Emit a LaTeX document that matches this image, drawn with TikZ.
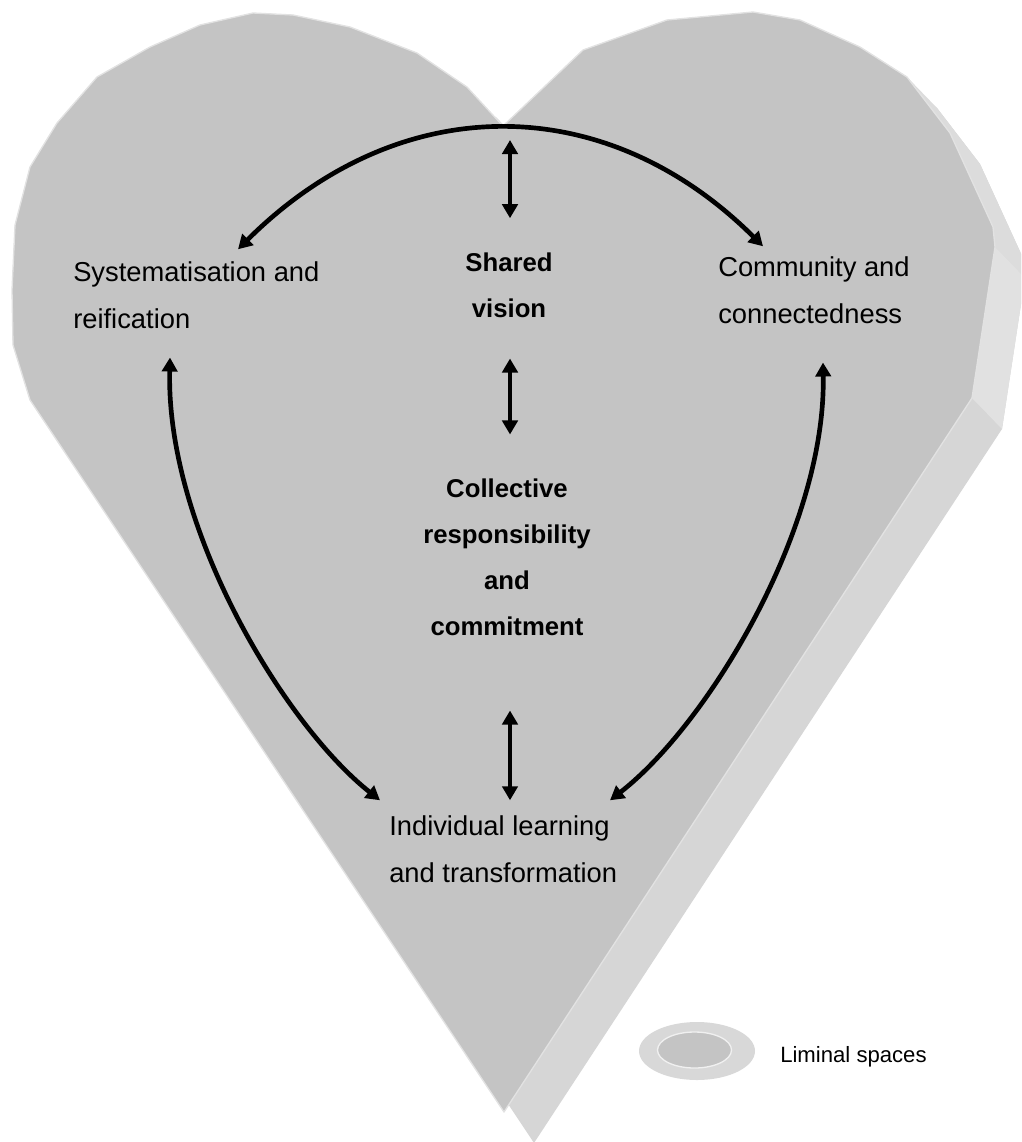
\documentclass[tikz,border=0pt]{standalone}
\usepackage{fontspec}
\setmainfont{Liberation Sans}
\usetikzlibrary{arrows.meta,calc}
\definecolor{facefront}{RGB}{196,196,196}
\definecolor{faceside}{RGB}{214,214,214}
\definecolor{facelight}{RGB}{220,220,220}
\definecolor{facelighter}{RGB}{225,225,225}
\definecolor{rim}{RGB}{226,226,226}
\definecolor{ringouter}{RGB}{216,216,216}
\definecolor{ringedge}{RGB}{240,240,240}

% outline of the heart's front face (pixel units, y downwards)
\def\heartoutline{(503,126) -- (583,50) -- (667,20) -- (753,12) -- (800,20) -- (860,47)
  -- (907,77) -- (950,133) -- (993,227) -- (995,247) -- (972,398) -- (504,1112)
  -- (30,400) -- (13,345) -- (12,290) -- (15,225) -- (30,167) -- (57,123) -- (97,77)
  -- (150,47) -- (200,25) -- (253,13) -- (293,15) -- (350,27) -- (417,53) -- (467,87) -- cycle}

\begin{document}
\begin{tikzpicture}[x=0.75pt,y=-0.75pt,
  plainlabel/.style={inner sep=0pt, align=left, anchor=base west,
    font=\fontsize{20.5}{35}\selectfont},
  keylabel/.style={inner sep=0pt, align=center, anchor=base,
    font=\fontsize{19.3}{34.4}\selectfont\bfseries},
  link/.style={line width=3.5pt,
    {Triangle[length=10.5pt,width=11.5pt]}-{Triangle[length=10.5pt,width=11.5pt]}},
]
\useasboundingbox (0,0) rectangle (1021,1142);
\clip (0,0) rectangle (1021,1142);

% extruded back of the heart
\begin{scope}[shift={(30,31)}]
  \fill[faceside] \heartoutline;
\end{scope}
% lighter facets of the side wall
\fill[facelight] (907,77) -- (950,133) -- (993,227) -- (995,247) -- (1025,278)
  -- (1023,258) -- (980,164) -- (937,108) -- cycle;
\fill[facelighter] (995,247) -- (972,398) -- (1002,429) -- (1025,278) -- cycle;

% front face
\fill[facefront] \heartoutline;
\draw[rim, line width=1pt, line join=round] \heartoutline;

% labels (anchored at the baseline of their last line)
\node[plainlabel] (sys) at (73,328) {Systematisation and\\reification};
\node[plainlabel] (com) at (718,323) {Community and\\connectedness};
\node[keylabel] (shv) at (509,317) {Shared\\vision};
\node[keylabel] (col) at (507,635) {Collective\\responsibility\\and\\commitment};
\node[plainlabel] (ind) at (389,882) {Individual learning\\and transformation};

% connectors
\coordinate (arctop) at (510,140);
\draw[link] ($(sys.north west)+(165,-12)$) .. controls (399,89) and (605,89)
  .. ($(com.north west)+(45,-10)$);
\draw[link] (arctop) -- ($(shv.north)+(1,-34)$);
\draw[link] ($(shv.south)+(1,41)$) -- ($(col.north)+(3,-44)$);
\draw[link] ($(col.south)+(3,75)$) -- ($(ind.north west)+(121,-15)$);
\draw[link] ($(sys.south west)+(97,29)$) .. controls (166,530) and (285,725)
  .. ($(ind.north west)+(-9,-15)$);
\draw[link] ($(com.south west)+(105,39)$) .. controls (826,530) and (707,725)
  .. ($(ind.north west)+(221,-15)$);

% legend
\fill[ringouter] (697,1051) ellipse [x radius=58, y radius=29];
\draw[ringedge, line width=1pt, fill=facefront] (694.5,1050) ellipse [x radius=37, y radius=18];
\node[plainlabel, font=\fontsize{16.6}{20}\selectfont] (leg) at (780,1062) {Liminal spaces};
\end{tikzpicture}
\end{document}
